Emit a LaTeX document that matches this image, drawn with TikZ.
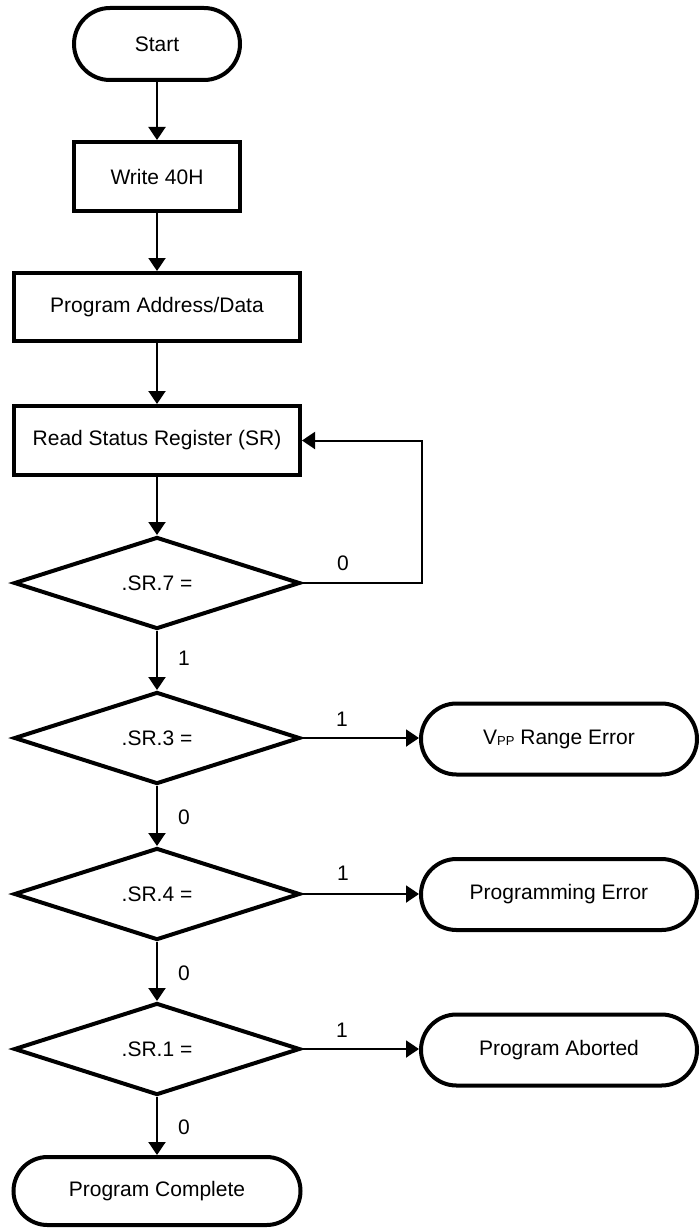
\documentclass[tikz,border=0pt]{standalone}
\usepackage{fontspec}
\setmainfont{Liberation Sans}
\usetikzlibrary{shapes.geometric,shapes.misc,arrows.meta}
\begin{document}
\begin{tikzpicture}[x=1pt,y=-1pt,
  every node/.style={font=\fontsize{21}{24}\selectfont},
  term/.style={rounded rectangle, draw, line width=4pt, inner sep=0pt},
  proc/.style={rectangle, draw, line width=4pt, inner sep=0pt},
  test/.style={diamond, draw, line width=4pt, inner sep=0pt, aspect=3,
    minimum width=286pt, minimum height=92pt},
  flow/.style={line width=2pt, -{Triangle[length=13pt,width=17pt]}},
  lbl/.style={inner sep=0pt}]
\useasboundingbox (0,0) rectangle (699,1228);

% main column
\node[term, minimum width=166pt, minimum height=72pt] (start) at (157,44) {Start};
\node[proc, minimum width=166pt, minimum height=69pt] (w40) at (157,176.5) {Write 40H};
\node[proc, minimum width=286pt, minimum height=68pt] (pad) at (157,307) {Program Address/Data};
\node[proc, minimum width=286pt, minimum height=69pt] (rsr) at (157,440.5) {Read Status Register (SR)};
\node[test] (d7) at (157,583) {.SR.7 =};
\node[test] (d3) at (157,738) {.SR.3 =};
\node[test] (d4) at (157,894) {.SR.4 =};
\node[test] (d1) at (157,1049) {.SR.1 =};
\node[term, minimum width=287pt, minimum height=68pt] (done) at (157,1191) {Program Complete};

% error exits
\node[term, minimum width=276pt, minimum height=71pt] (vpp) at (559,739)
  {V\raisebox{-1.5pt}{\fontsize{13}{13}\selectfont PP} Range Error};
\node[term, minimum width=276pt, minimum height=71pt] (perr) at (559,894.5) {Programming Error};
\node[term, minimum width=276pt, minimum height=71pt] (abrt) at (559,1050) {Program Aborted};

% connectors
\draw[flow] (start) -- (w40);
\draw[flow] (w40) -- (pad);
\draw[flow] (pad) -- (rsr);
\draw[flow] (rsr) -- (d7);
\draw[flow] (d7.east) -- ++(120,0) |- (rsr.east);
\draw[flow] (d7) -- (d3);
\draw[flow] (d3) -- (d4);
\draw[flow] (d4) -- (d1);
\draw[flow] (d1) -- (done);
\draw[flow] (d3.east) -- (vpp.west |- d3.east);
\draw[flow] (d4.east) -- (perr.west |- d4.east);
\draw[flow] (d1.east) -- (abrt.west |- d1.east);

% branch values
\node[lbl] (l7a) at (343,563) {0};
\node[lbl] (l7b) at (184,658) {1};
\node[lbl] (l3a) at (342,719) {1};
\node[lbl] (l3b) at (184,817) {0};
\node[lbl] (l4a) at (343,873) {1};
\node[lbl] (l4b) at (184,973) {0};
\node[lbl] (l1a) at (342,1030) {1};
\node[lbl] (l1b) at (184,1127) {0};
\end{tikzpicture}
\end{document}
